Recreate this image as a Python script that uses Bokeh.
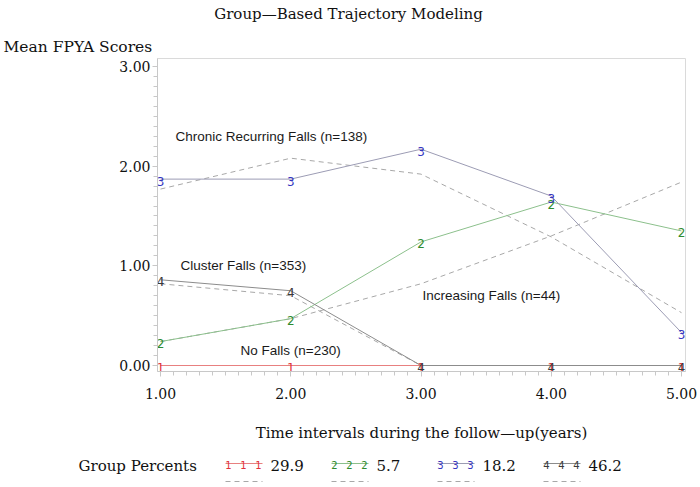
from bokeh.plotting import figure
from bokeh.models import Range1d, FixedTicker, PrintfTickFormatter, Label
from bokeh.core.properties import value
from bokeh.embed import file_html
from bokeh.resources import INLINE

# ---------------- data ----------------
time = [1, 2, 3, 4, 5]
group_ids = ["1", "2", "3", "4"]
group_percents = [29.9, 5.7, 18.2, 46.2]

obs_g1 = [0.0, 0.0, 0.0, 0.0, 0.0]
pred_g1 = [0.0, 0.0, 0.0, 0.0, 0.0]
obs_g2 = [0.24, 0.47, 1.24, 1.64, 1.35]
pred_g2 = [0.24, 0.47, 0.82, 1.30, 1.84]
obs_g3 = [1.87, 1.87, 2.17, 1.70, 0.33]
pred_g3 = [1.77, 2.08, 1.92, 1.29, 0.53]
obs_g4 = [0.86, 0.75, 0.0, 0.0, 0.0]
pred_g4 = [0.82, 0.70, 0.0, 0.0, 0.0]

x_ticks = [1, 2, 3, 4, 5]
y_ticks = [0, 1, 2, 3]

title_text = "Group\u2014Based Trajectory Modeling"
y_label = "Mean FPYA Scores"
x_label = "Time intervals during the follow\u2014up(years)"
legend_title = "Group Percents"
annotations = ["Chronic Recurring Falls (n=138)", "Cluster Falls (n=353)",
               "Increasing Falls (n=44)", "No Falls (n=230)"]

# ---------------- styles ----------------
marker_colors = ["#e0303a", "#2e8b2e", "#3535c0", "#3a3a3a"]
line_colors = ["#e88080", "#8cc08c", "#9c9cb4", "#8c8c8c"]
dash_color = "#a8a8a8"
axis_gray = "#c8c8c8"
SERIF = "DejaVu Serif"
SANS = "Liberation Sans"
MFONT = "DejaVu Sans"

# geometry in page pixels
W = 700
TOP_H = 56          # title strip: page y 0..56
MAIN_BOTTOM = 410   # main figure: page y 56..410
PAGE_H = 487        # bottom strip: page y 410..487
FL, FR, FT, FB = 157, 685, 58, 371
X1PX, XPU = 160.0, 130.25
Y0PX, YPU = 365.0, 99.67

x_start = 1 - (X1PX - FL) / XPU
x_end = 1 + (FR - X1PX) / XPU
y_start = -(FB - Y0PX) / YPU
y_end = (Y0PX - FT) / YPU


def px2x(px):
    return x_start + (px - FL) / XPU


def px2y(py):
    return y_start + (FB - py) / YPU


def strip(y0, y1):
    f = figure(width=W, height=y1 - y0, x_range=Range1d(0, W), y_range=Range1d(y1, y0),
               toolbar_location=None, output_backend="svg", min_border=0,
               x_axis_location=None, y_axis_location=None)
    f.grid.visible = False
    f.outline_line_color = None
    f.background_fill_color = "white"
    f.border_fill_color = "white"
    return f


def serif_text(f, x, y, txt, align="left", size="15px"):
    f.text(x=[x], y=[y], text=[txt], text_font=value(SERIF), text_font_size=size,
           text_color="#111111", text_align=align, text_baseline="middle")


# ---------------- top strip ----------------
top = strip(0, TOP_H)
serif_text(top, 348, 13, title_text, align="center")
serif_text(top, 3, 46, y_label, size="15.5px")

# ---------------- main plot ----------------
MH = MAIN_BOTTOM - TOP_H
p = figure(width=W, height=MH, x_range=Range1d(x_start, x_end),
           y_range=Range1d(y_start, y_end), toolbar_location=None,
           output_backend="svg", min_border_left=FL, min_border_right=W - FR,
           min_border_top=FT - TOP_H, min_border_bottom=MAIN_BOTTOM - FB)
p.grid.visible = False
p.outline_line_color = "#dadada"
p.background_fill_color = "white"
p.border_fill_color = "white"

for ax, ticks, lo in ((p.xaxis[0], x_ticks, 1), (p.yaxis[0], y_ticks, 0)):
    ax.ticker = FixedTicker(ticks=ticks,
                            minor_ticks=[round(lo + i / 10, 2) for i in range(0, 10 * (ticks[-1] - ticks[0]) + 1)])
    ax.formatter = PrintfTickFormatter(format="%.2f")
    ax.axis_line_color = axis_gray
    ax.major_tick_line_color = axis_gray
    ax.minor_tick_line_color = axis_gray
    ax.major_tick_in = 0
    ax.minor_tick_in = 0
    ax.major_tick_out = 5
    ax.minor_tick_out = 4
    ax.major_label_text_font = SERIF
    ax.major_label_text_font_size = "14px"
    ax.major_label_text_color = "#111111"
p.yaxis.major_label_standoff = 2
p.xaxis.major_label_standoff = 11

obs = [obs_g1, obs_g2, obs_g3, obs_g4]
pred = [pred_g1, pred_g2, pred_g3, pred_g4]

for i in range(4):
    p.line(time, pred[i], line_color=dash_color, line_width=1, line_dash="5 4")
for i in range(4):
    p.line(time, obs[i], line_color=line_colors[i], line_width=1)
for i in range(4):
    p.text(x=time, y=obs[i], text=[group_ids[i]] * len(time),
           text_font=value(MFONT), text_font_size="12px",
           text_color=marker_colors[i], text_align="center",
           text_baseline="middle", y_offset=2)

ann_pos = [(175, 136), (180, 265), (422, 295), (240, 350)]
for txt, (ax_, ay_) in zip(annotations, ann_pos):
    p.add_layout(Label(x=px2x(ax_), y=px2y(ay_), text=txt, text_font=SANS,
                       text_font_size="13.5px", text_color="#1a1a1a",
                       text_baseline="middle", text_align="left"))

# ---------------- bottom strip ----------------
bot = strip(MAIN_BOTTOM, PAGE_H)
serif_text(bot, 421, 432, x_label, align="center")
serif_text(bot, 78, 465, legend_title)
starts = [225, 331, 437, 543]
for i in range(4):
    s = starts[i]
    bot.line([s, s + 37], [463, 463], line_color=line_colors[i], line_width=1)
    bot.text(x=[s + 3, s + 18, s + 33], y=[463] * 3,
             text=[group_ids[i]] * 3, text_font=value(MFONT), text_font_size="10px",
             text_color=marker_colors[i], text_align="center", text_baseline="middle",
             y_offset=1)
    serif_text(bot, s + 45, 465, "%.1f" % group_percents[i])
    bot.line([s, s + 37], [481, 481], line_color=dash_color, line_width=1, line_dash="5 4")

open("out.html", "w").write(file_html([top, p, bot], INLINE))
